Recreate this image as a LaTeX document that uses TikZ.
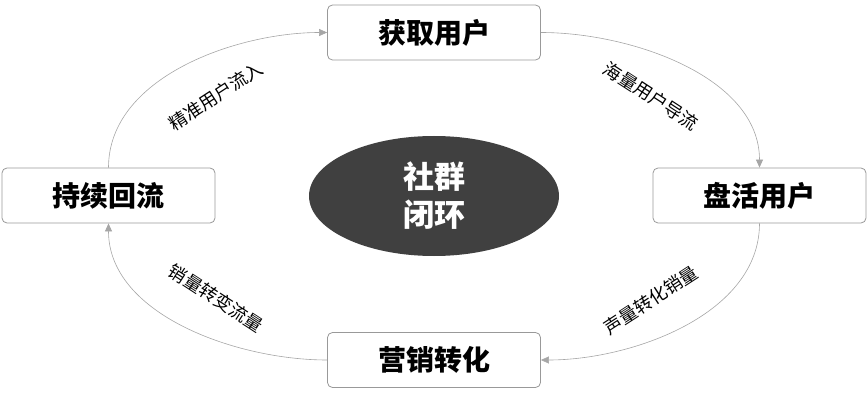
\documentclass[tikz,border=0pt]{standalone}
\usepackage{fontspec}
\newfontfamily\cjk{Noto Sans CJK SC}
\newfontfamily\cjkb{Noto Sans CJK SC Black}
\usetikzlibrary{shapes.geometric,arrows.meta}
\tikzset{
 stage/.style={draw=gray!80,line width=0.8pt,rounded corners=5pt,fill=white,minimum width=213pt,minimum height=55pt,font=\cjkb\fontsize{28}{30}\selectfont},
 flow/.style={draw=gray!70,line width=0.6pt,-{Triangle[length=8pt,width=7pt]}},
 lab/.style={font=\cjk\fontsize{18}{20}\selectfont,text=black}
}
\begin{document}
\begin{tikzpicture}[x=1pt,y=-1pt]
\useasboundingbox (0,0) rectangle (868,401);
\node[stage] (top) at (434,32.5) {获取用户};
\node[stage] (right) at (759.5,195.5) {盘活用户};
\node[stage] (bottom) at (434,360) {营销转化};
\node[stage] (left) at (108.5,195.5) {持续回流};
\node[ellipse,fill=black!75,minimum width=250pt,minimum height=120pt,text=white,align=center,font=\cjkb\fontsize{31}{38}\selectfont] (core) at (434,196) {社群\\闭环};
\draw[flow] (left.north) to[out=90,in=180,looseness=0.9] (top.west);
\draw[flow] (top.east) to[out=0,in=90,looseness=0.9] (right.north);
\draw[flow] (right.south) to[out=-90,in=0,looseness=0.9] (bottom.east);
\draw[flow] (bottom.west) to[out=180,in=-90,looseness=0.9] (left.south);
\node[lab,rotate=33] (l1) at (216,96) {精准用户流入};
\node[lab,rotate=-33] (l2) at (651,96) {海量用户导流};
\node[lab,rotate=33] (l3) at (651,300) {声量转化销量};
\node[lab,rotate=-33] (l4) at (216,298) {销量转变流量};
\end{tikzpicture}
\end{document}
